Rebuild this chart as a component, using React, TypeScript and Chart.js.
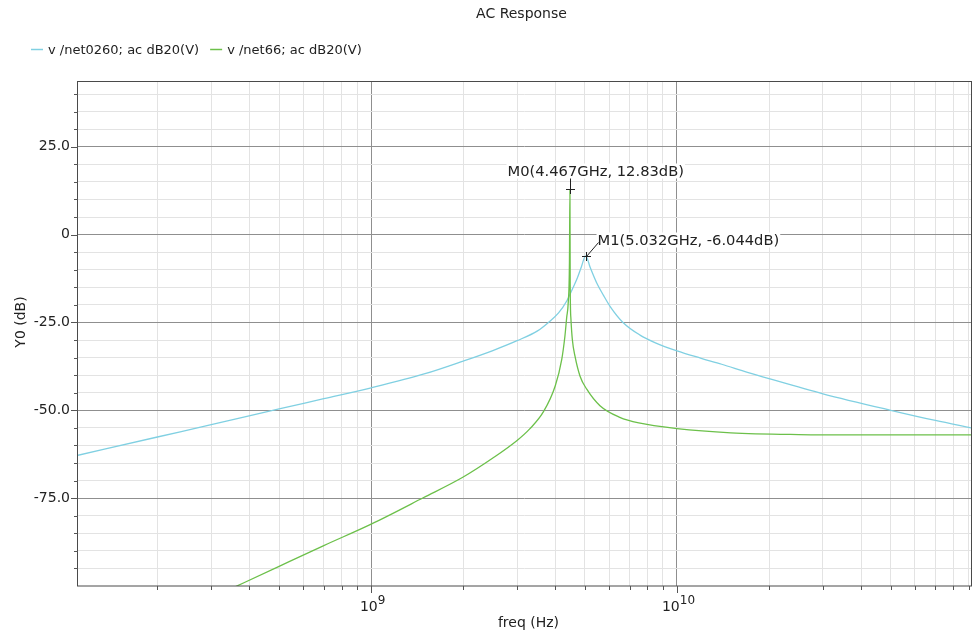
import React, { useEffect, useRef } from 'react';
import { Chart, registerables } from 'chart.js';

Chart.register(...registerables);

const TITLE = 'AC Response';
const X_TITLE = 'freq (Hz)';
const Y_TITLE = 'Y0 (dB)';
const seriesLabels = ['v /net0260; ac dB20(V)', 'v /net66; ac dB20(V)'];
const seriesColors = ['#80d0e2', '#6cc04a'];

// net0260 (cyan)
const blueFreqGHz = [0.11, 0.2, 0.3, 0.5, 0.7, 1.0, 1.5, 2.0, 2.5, 3.0, 3.5, 3.8, 4.1, 4.36, 4.55, 4.7, 4.85, 5.032, 5.2, 5.46, 5.75, 6.04, 6.66, 7.57, 8.5, 10, 12, 14, 17, 20, 30, 50, 70, 91.5];
const blueDb = [-62.8, -57.6, -54.1, -49.6, -46.7, -43.6, -39.6, -36.0, -33.0, -30.2, -27.4, -25.0, -22.3, -18.9, -15.5, -12.8, -9.6, -6.044, -9.3, -13.7, -17.3, -20.4, -25.0, -28.6, -30.8, -33.1, -35.2, -36.9, -39.2, -41.0, -45.3, -50.0, -52.9, -55.0];

// net66 (green)
const greenFreqGHz = [0.34, 0.5, 0.7, 1.0, 1.48, 2.0, 2.5, 3.0, 3.3, 3.66, 4.0, 4.2, 4.3, 4.36, 4.41, 4.45, 4.467, 4.475, 4.5, 4.55, 4.64, 4.82, 5.07, 5.6, 6.5, 7.5, 10, 15, 25, 40, 91.5];
const greenDb = [-101.2, -94.4, -88.5, -82.4, -74.9, -69.0, -63.6, -58.6, -55.3, -50.4, -43.0, -35.5, -29.0, -23.5, -19.3, -8.0, 12.83, -14.0, -24.0, -30.0, -34.6, -40.3, -44.0, -48.7, -52.0, -53.6, -55.2, -56.4, -56.9, -57.0, -57.0];

// markers
const markerNames = ['M0', 'M1'];
const markerFreqGHz = [4.467, 5.032];
const markerDb = [12.83, -6.044];

// axes
const X_MIN = 1.1e8;
const X_MAX = 9.15e10;
const Y_MIN = -100;
const Y_MAX = 43.7;
const xMajorExps = [9, 10];
const yMajorTicks = [-75, -50, -25, 0, 25];
const yTickLabels = ['-75.0', '-50.0', '-25.0', '0', '25.0'];
const Y_MINOR_STEP = 5;

// styling (not data)
const FONT = 'DejaVu Sans';
const MAJOR_GRID = '#8f8f8f';
const MINOR_GRID = '#e3e3e3';
const markerLabelOffsets = [[-63, -14], [11, -12]];

function xTickValues(): number[] {
  const out: number[] = [];
  for (let e = 8; e <= 10; e++) {
    for (let m = 1; m <= 9; m++) {
      const v = m * Math.pow(10, e);
      if (v >= X_MIN && v <= X_MAX) out.push(v);
    }
  }
  return out;
}
function yTickValues(): number[] {
  const out: number[] = [];
  for (let v = Math.ceil(Y_MIN / Y_MINOR_STEP) * Y_MINOR_STEP; v <= Y_MAX; v += Y_MINOR_STEP) {
    if (v > Y_MIN) out.push(v);
  }
  return out;
}
const isMajorX = (v: number) => Math.abs(Math.log10(v) - Math.round(Math.log10(v))) < 1e-9;
const isMajorY = (v: number) => yMajorTicks.includes(v);

const decorPlugin = {
  id: 'decor',
  afterDraw(chart: any) {
    const { ctx, chartArea: a, scales } = chart;
    const xs = scales.x;
    const ys = scales.y;
    ctx.save();
    // border
    ctx.strokeStyle = '#4a4a4a';
    ctx.lineWidth = 1;
    ctx.strokeRect(a.left - 0.5, a.top + 0.5, a.right - a.left + 1, a.bottom - a.top - 0.5);

    // tick marks
    ctx.strokeStyle = '#555';
    ctx.beginPath();
    for (const v of yTickValues()) {
      const py = Math.round(ys.getPixelForValue(v)) + 0.5;
      const len = isMajorY(v) ? 7 : 4;
      ctx.moveTo(a.left - len, py);
      ctx.lineTo(a.left, py);
    }
    for (const v of xTickValues()) {
      const px = Math.round(xs.getPixelForValue(v)) + 0.5;
      const len = isMajorX(v) ? 7 : 4;
      ctx.moveTo(px, a.bottom);
      ctx.lineTo(px, a.bottom + len);
    }
    ctx.stroke();

    ctx.fillStyle = '#222';
    // x tick labels with superscript exponents
    for (const e of xMajorExps) {
      const px = xs.getPixelForValue(Math.pow(10, e));
      ctx.font = `14px ${FONT}`;
      const wb = ctx.measureText('10').width;
      ctx.font = `12px ${FONT}`;
      const we = ctx.measureText(String(e)).width;
      const start = px + 1.5 - (wb + we) / 2;
      ctx.textAlign = 'left';
      ctx.textBaseline = 'alphabetic';
      ctx.font = `14px ${FONT}`;
      ctx.fillText('10', start, 611);
      ctx.font = `12px ${FONT}`;
      ctx.fillText(String(e), start + wb, 604);
    }

    // x title
    ctx.font = `14px ${FONT}`;
    ctx.textAlign = 'center';
    ctx.textBaseline = 'alphabetic';
    ctx.fillText(X_TITLE, (a.left + a.right) / 2 + 4, 627);

    // chart title
    ctx.fillText(TITLE, (a.left + a.right) / 2 - 3, 18);

    // y title
    ctx.save();
    ctx.translate(21, 322);
    ctx.rotate(-Math.PI / 2);
    ctx.textAlign = 'center';
    ctx.textBaseline = 'middle';
    ctx.fillText(Y_TITLE, 0, 0);
    ctx.restore();

    // legend
    ctx.font = `13px ${FONT}`;
    let lx = 31;
    seriesLabels.forEach((lab, i) => {
      ctx.strokeStyle = seriesColors[i];
      ctx.lineWidth = 1.5;
      ctx.beginPath();
      ctx.moveTo(lx, 49.5);
      ctx.lineTo(lx + 12, 49.5);
      ctx.stroke();
      ctx.fillStyle = '#222';
      ctx.textAlign = 'left';
      ctx.textBaseline = 'alphabetic';
      ctx.fillText(lab, lx + 17, 53.5);
      lx += 17 + ctx.measureText(lab).width + 11;
    });

    // markers
    ctx.font = `14.7px ${FONT}`;
    markerNames.forEach((name, i) => {
      const px = Math.round(xs.getPixelForValue(markerFreqGHz[i] * 1e9)) + 0.5;
      const py = Math.round(ys.getPixelForValue(markerDb[i])) + 0.5;
      const label = `${name}(${markerFreqGHz[i].toPrecision(4)}GHz, ${markerDb[i].toPrecision(4)}dB)`;
      const [ox, oy] = markerLabelOffsets[i];
      const tx = px + ox;
      const ty = py + oy;
      const w = ctx.measureText(label).width;
      // white background
      ctx.fillStyle = '#ffffff';
      ctx.fillRect(tx - 1, ty - 12, w + 2, 15);
      // connector
      ctx.strokeStyle = '#222';
      ctx.lineWidth = 1;
      ctx.beginPath();
      if (oy < 0 && ox < 0) {
        ctx.moveTo(px, py);
        ctx.lineTo(px, ty + 3);
      } else {
        ctx.moveTo(px, py);
        ctx.lineTo(tx + 1, ty - 2);
      }
      // cross
      ctx.moveTo(px - 4.5, py);
      ctx.lineTo(px + 4.5, py);
      ctx.moveTo(px, py - 4.5);
      ctx.lineTo(px, py + 4.5);
      ctx.stroke();
      ctx.fillStyle = '#222';
      ctx.textAlign = 'left';
      ctx.textBaseline = 'alphabetic';
      ctx.fillText(label, tx, ty);
    });

    ctx.restore();
  },
};

export default function App() {
  const ref = useRef<HTMLCanvasElement | null>(null);
  useEffect(() => {
    if (!ref.current) return;
    Chart.defaults.font.family = FONT;
    const chart = new Chart(ref.current, {
      type: 'line',
      data: {
        datasets: [
          {
            label: seriesLabels[0],
            data: blueFreqGHz.map((f, i) => ({ x: f * 1e9, y: blueDb[i] })),
            borderColor: seriesColors[0],
            borderWidth: 1.3,
            order: 1,
          },
          {
            label: seriesLabels[1],
            data: greenFreqGHz.map((f, i) => ({ x: f * 1e9, y: greenDb[i] })),
            borderColor: seriesColors[1],
            borderWidth: 1.3,
            order: 0,
          },
        ],
      },
      options: {
        responsive: false,
        maintainAspectRatio: false,
        animation: false,
        devicePixelRatio: 1,
        layout: { padding: { top: 81, right: 1, left: 0, bottom: 0 } },
        elements: {
          point: { radius: 0, hoverRadius: 0 },
          line: { cubicInterpolationMode: 'monotone', fill: false },
        },
        plugins: {
          legend: { display: false },
          title: { display: false },
          tooltip: { enabled: false },
        },
        events: [],
        scales: {
          x: {
            type: 'logarithmic',
            min: X_MIN,
            max: X_MAX,
            afterBuildTicks: (s: any) => {
              s.ticks = xTickValues().map((v) => ({ value: v }));
            },
            afterFit: (s: any) => {
              s.height = 47;
            },
            ticks: { display: false, autoSkip: false },
            grid: {
              drawTicks: false,
              lineWidth: 1,
              color: (c: any) => (c.tick && isMajorX(c.tick.value) ? MAJOR_GRID : MINOR_GRID),
            },
            border: { display: false },
          },
          y: {
            type: 'linear',
            min: Y_MIN,
            max: Y_MAX,
            afterBuildTicks: (s: any) => {
              s.ticks = yTickValues().map((v) => ({ value: v }));
            },
            afterFit: (s: any) => {
              s.width = 78;
            },
            ticks: {
              autoSkip: false,
              padding: 8,
              color: '#222',
              font: { family: FONT, size: 14 },
              callback: (v: any) => {
                const idx = yMajorTicks.indexOf(Number(v));
                return idx >= 0 ? yTickLabels[idx] : '';
              },
            },
            grid: {
              drawTicks: false,
              lineWidth: 1,
              color: (c: any) => (c.tick && isMajorY(c.tick.value) ? MAJOR_GRID : MINOR_GRID),
            },
            border: { display: false },
          },
        },
      },
      plugins: [decorPlugin],
    } as any);
    return () => chart.destroy();
  }, []);
  return (
    <div style={{ position: 'fixed', left: 0, top: 0, width: 972, height: 633, background: '#fff' }}>
      <canvas ref={ref} width={972} height={633} style={{ display: 'block', width: 972, height: 633 }} />
    </div>
  );
}
